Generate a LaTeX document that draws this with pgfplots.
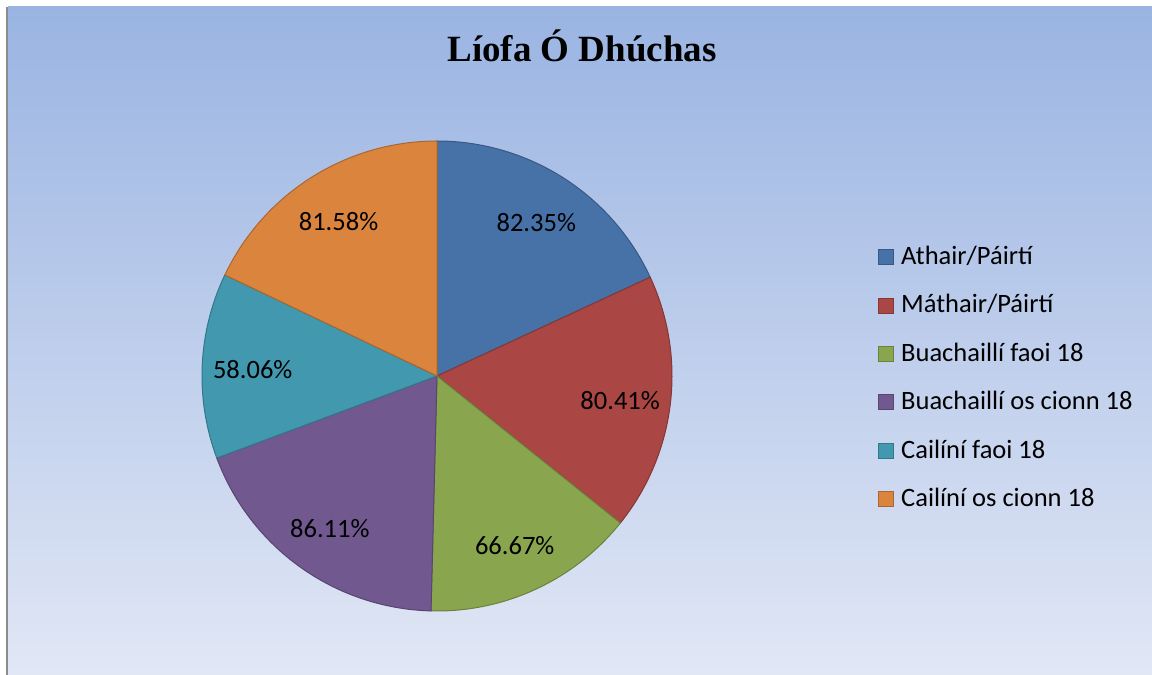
\documentclass[border=0pt]{standalone}
\usepackage{pgfplots}
\usepackage{pgfplotstable}
\pgfplotsset{compat=1.18}
\usepackage{fontspec}
\setmainfont{Carlito}
\newfontfamily\titleff{Liberation Serif}
\definecolor{c0}{HTML}{4672A8}
\definecolor{c1}{HTML}{AA4644}
\definecolor{c2}{HTML}{89A54E}
\definecolor{c3}{HTML}{71588F}
\definecolor{c4}{HTML}{4198AF}
\definecolor{c5}{HTML}{DB843D}
\definecolor{bgtop}{HTML}{9AB4E2}
\definecolor{bgbot}{HTML}{E1E7F5}
\pgfplotstableread{
value
82.35
80.41
66.67
86.11
58.06
81.58
}\piedata
\newcommand\labelfont{\fontsize{26.5}{30}\selectfont}
\begin{document}
\begin{tikzpicture}[x=1pt,y=1pt]
\path[use as bounding box] (0,0) rectangle (1152,675);
\shade[top color=bgtop, bottom color=bgbot] (8,0) rectangle (1152,668);
\fill[black!45] (6,0) rectangle (8,668);
\node[font=\titleff\bfseries\fontsize{37}{40}\selectfont, anchor=base] at (582,613) {Líofa Ó Dhúchas};
\gdef\total{0}
\foreach \i in {0,...,5}{%
  \pgfplotstablegetelem{\i}{value}\of\piedata
  \pgfmathsetmacro\tmp{\total+\pgfplotsretval}%
  \xdef\total{\tmp}}
\begin{axis}[
  x=235pt, y=235pt, anchor=origin, at={(437pt,299pt)},
  xmin=-1, xmax=1, ymin=-1, ymax=1,
  hide axis, clip=false,
  legend entries={Athair/Páirtí, Máthair/Páirtí, Buachaillí faoi 18, Buachaillí os cionn 18, Cailíní faoi 18, Cailíní os cionn 18},
  legend cell align=left,
  legend image code/.code={\draw[#1, line width=0.9pt] (0pt,-6.5pt) rectangle (15pt,8.5pt);},
  legend style={at={(axis cs:1.877,-0.013)}, anchor=west, draw=none, fill=none,
    font=\fontsize{26.5}{30}\selectfont, row sep=23.4pt, column sep=7pt, inner sep=0pt,
    nodes={inner sep=0pt, text height=19pt, text depth=6pt}},
]
\gdef\cum{90}
\pgfplotsinvokeforeach{0,...,5}{%
  \pgfplotstablegetelem{#1}{value}\of\piedata
  \pgfmathsetmacro\fr{\pgfplotsretval/\total}%
  \pgfmathsetmacro\ang{360*\fr}%
  \pgfmathsetmacro\aE{\cum-\ang}%
  \pgfmathsetmacro\mid{\cum-\ang/2}%
  \edef\temp{\noexpand\addplot[fill=c#1, draw=c#1!78!black, line width=1pt, domain=\aE:\cum, samples=80] ({cos(x)},{sin(x)}) -- (axis cs:0,0) -- cycle;}%
  \temp
  \edef\temp{\noexpand\node[font=\noexpand\labelfont, yshift=-2pt] at (axis cs:{0.785*cos(\mid)},{0.785*sin(\mid)}) {\pgfplotsretval\noexpand\%};}%
  \temp
  \xdef\cum{\aE}%
}
\end{axis}
\end{tikzpicture}
\end{document}
